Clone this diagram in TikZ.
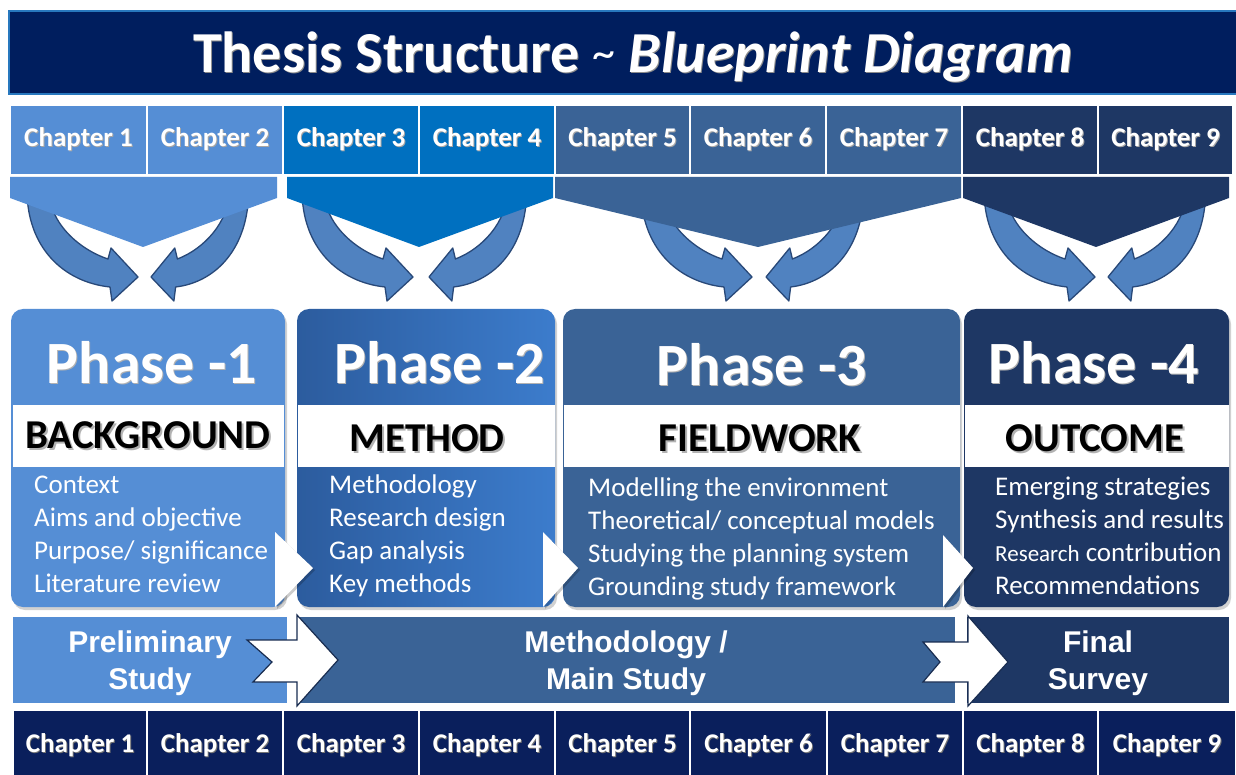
\documentclass[tikz,border=0pt]{standalone}
\usepackage{fontspec}
\setmainfont{Carlito}
\newfontfamily\arialfont{Liberation Sans}
\definecolor{navy}{RGB}{0,30,94}
\definecolor{navyrow}{RGB}{10,31,92}
\definecolor{tline}{RGB}{40,120,190}
\definecolor{gA}{RGB}{85,142,213}
\definecolor{gB}{RGB}{0,112,192}
\definecolor{gC}{RGB}{58,99,150}
\definecolor{gD}{RGB}{30,55,100}
\definecolor{pBl}{RGB}{44,92,158}
\definecolor{pBr}{RGB}{60,124,204}
\definecolor{afill}{RGB}{80,130,192}
\definecolor{aline}{RGB}{40,72,120}
\newcommand{\chapfont}{\fontsize{27}{30}\selectfont\bfseries}
\newcommand{\phasefont}{\fontsize{60}{66}\selectfont\bfseries}
\newcommand{\headfont}{\fontsize{41}{46}\selectfont\bfseries}
\newcommand{\listfont}{\fontsize{27}{30}\selectfont}
\newcommand{\bandfont}{\arialfont\fontsize{30}{34}\selectfont\bfseries}
\newcommand{\shadowtxt}[3]{\makebox[0pt][l]{\hspace{#1}\raisebox{-#1}{\color{#2}#3}}#3}
\newcommand{\bendarrow}[2]{%
  \begin{scope}[shift={(#1,277)}, xscale=#2]
    \path[arrowshape] (0,0) -- (-27,-29) -- (-30,-18)
      .. controls (-60,-28) and (-89,-55) .. (-89,-87) -- (-111,-87)
      .. controls (-111,-30) and (-75,5) .. (-28,10) -- (-26,24) -- cycle;
  \end{scope}}
\begin{document}
\begin{tikzpicture}[x=1pt,y=-1pt,
  chap/.style={draw=white, line width=1.5pt, minimum height=70pt, inner sep=0pt,
    text=white, text height=14pt, text depth=0pt, font=\chapfont},
  arrowshape/.style={fill=afill, draw=aline, line width=1.3pt, line join=round},
  phase/.style={anchor=base, text=white, inner sep=0pt, font=\phasefont},
  head/.style={anchor=base, text=black, inner sep=0pt, font=\headfont},
  item/.style={anchor=base west, text=white, inner sep=0pt, font=\listfont},
  band/.style={anchor=base, text=white, inner sep=0pt, font=\bandfont},
  whitearrow/.style={fill=white, draw=gD!80!black, line width=1.2pt, line join=miter}]
\useasboundingbox (0,0) rectangle (1236,775);
\fill[white] (0,0) rectangle (1236,775);

% title
\path[fill=navy, draw=tline, line width=2pt] (9,11) rectangle (1250,94);
\node[anchor=base, text=white, inner sep=0pt] (title) at (633,73)
  {\fontsize{58}{64}\selectfont\bfseries\shadowtxt{1pt}{black!45}{Thesis Structure} \raisebox{4pt}{\fontsize{46}{46}\selectfont\mdseries\textasciitilde} \shadowtxt{1pt}{black!45}{\textit{Blueprint Diagram}}};

% top chapter row
\foreach \i/\a/\b/\c in {1/10/147/gA, 2/147/283/gA, 3/283/419/gB, 4/419/555/gB, 5/555/690/gC, 6/690/826/gC, 7/826/962/gC, 8/962/1098/gD, 9/1098/1233/gD}{
  \pgfmathsetmacro\w{\b-\a}
  \node[chap, fill=\c, minimum width=\w pt] (top\i) at ({(\a+\b)/2},140) {\shadowtxt{1pt}{black!35}{Chapter \i}};
}

% curved arrows
\bendarrow{138}{1}  \bendarrow{151}{-0.88}
\bendarrow{413}{1}  \bendarrow{429}{-0.88}
\bendarrow{752}{1}  \bendarrow{766}{-0.88}
\bendarrow{1095}{1} \bendarrow{1108}{-0.88}

% pentagons
\fill[gA] (10,177) -- (277,177) -- (277,198) -- (143,247) -- (10,198) -- cycle;
\fill[gB] (287,177) -- (553,177) -- (553,198) -- (419,247) -- (287,198) -- cycle;
\fill[gC] (555,177) -- (961,177) -- (961,198) -- (758,247) -- (555,198) -- cycle;
\fill[gD] (963,177) -- (1229,177) -- (1229,198) -- (1096,247) -- (963,198) -- cycle;

% phase boxes
\foreach \a/\b in {11/285, 297/555, 563/960, 964/1229}
  \fill[black, opacity=0.18, rounded corners=12pt] (\a+2,312) rectangle (\b+2,610);
\path[fill=gA, rounded corners=12pt] (11,309) rectangle (285,607);
\path[left color=pBl, right color=pBr, rounded corners=12pt] (297,309) rectangle (555,607);
\path[fill=gC, rounded corners=12pt] (563,309) rectangle (960,607);
\path[fill=gD, rounded corners=12pt] (964,309) rectangle (1229,607);
\fill[white] (13,405) rectangle (284,467);
\fill[white] (298,405) rectangle (555,467);
\fill[white] (564,405) rectangle (960,467);
\fill[white] (965,405) rectangle (1229,467);

\node[phase] (ph1) at (152,383) {\shadowtxt{1pt}{black!30}{Phase -1}};
\node[phase] (ph2) at (440,383) {\shadowtxt{1pt}{black!30}{Phase -2}};
\node[phase] (ph3) at (762,385) {\shadowtxt{1pt}{black!30}{Phase -3}};
\node[phase] (ph4) at (1094,383) {\shadowtxt{1pt}{black!30}{Phase -4}};

\node[head] (hd1) at (148,448) {\shadowtxt{2pt}{black!30}{BACKGROUND}};
\node[head] (hd2) at (427,451) {\shadowtxt{2pt}{black!30}{METHOD}};
\node[head] (hd3) at (760,451) {\shadowtxt{2pt}{black!30}{FIELDWORK}};
\node[head] (hd4) at (1095,451) {\shadowtxt{2pt}{black!30}{OUTCOME}};

\node[item] (a1) at (34,493) {Context};
\node[item] (a2) at (34,526) {Aims and objective};
\node[item] (a3) at (34,559) {Purpose/ significance};
\node[item] (a4) at (34,592) {Literature review};
\node[item] (b1) at (329,493) {Methodology};
\node[item] (b2) at (329,526) {Research design};
\node[item] (b3) at (329,559) {Gap analysis};
\node[item] (b4) at (329,592) {Key methods};
\node[item] (c1) at (588,496) {Modelling the environment};
\node[item] (c2) at (588,529) {Theoretical/ conceptual models};
\node[item] (c3) at (588,562) {Studying the planning system};
\node[item] (c4) at (588,595) {Grounding study framework};
\node[item] (d1) at (995,495) {Emerging strategies};
\node[item] (d2) at (995,528) {Synthesis and results};
\node[item] (d3) at (995,561) {{\fontsize{23}{26}\selectfont Research} contribution};
\node[item] (d4) at (995,594) {Recommendations};

% white chevrons between phases
\fill[black, opacity=0.2] (277,534) -- (315,570) -- (277,609) -- cycle;
\fill[white] (275,532) -- (313,568) -- (275,607) -- cycle;
\fill[black, opacity=0.2] (545,534) -- (580,570) -- (545,609) -- cycle;
\fill[white] (543,532) -- (578,568) -- (543,607) -- cycle;
\fill[black, opacity=0.2] (945,537) -- (975,570) -- (945,609) -- cycle;
\fill[white] (943,535) -- (973,568) -- (943,607) -- cycle;

% bottom band
\fill[gA] (13,617) rectangle (287,703);
\fill[gC] (297,617) rectangle (955,703);
\fill[gD] (967,617) rectangle (1229,703);
\path[whitearrow] (247,640) -- (297,640) -- (297,615) -- (338,660) -- (297,706) -- (297,682) -- (253,682) -- (272,662) -- cycle;
\path[whitearrow] (923,642) -- (968,642) -- (968,616) -- (1008,662) -- (968,706) -- (968,682) -- (923,682) -- (940,662) -- cycle;

\node[band] (pre1) at (150,652) {Preliminary};
\node[band] (pre2) at (150,689) {Study};
\node[band] (mm1) at (626,652) {Methodology /};
\node[band] (mm2) at (626,689) {Main Study};
\node[band] (fi1) at (1098,652) {Final};
\node[band] (fi2) at (1098,689) {Survey};

% bottom chapter row
\foreach \i/\a/\b in {1/13/147, 2/147/283, 3/283/419, 4/419/555, 5/555/690, 6/690/827, 7/827/963, 8/963/1098, 9/1098/1236}{
  \pgfmathsetmacro\w{\b-\a}
  \node[chap, fill=navyrow, minimum width=\w pt] (bot\i) at ({(\a+\b)/2},745) {\shadowtxt{1pt}{black!55}{Chapter \i}};
}
\end{tikzpicture}
\end{document}
